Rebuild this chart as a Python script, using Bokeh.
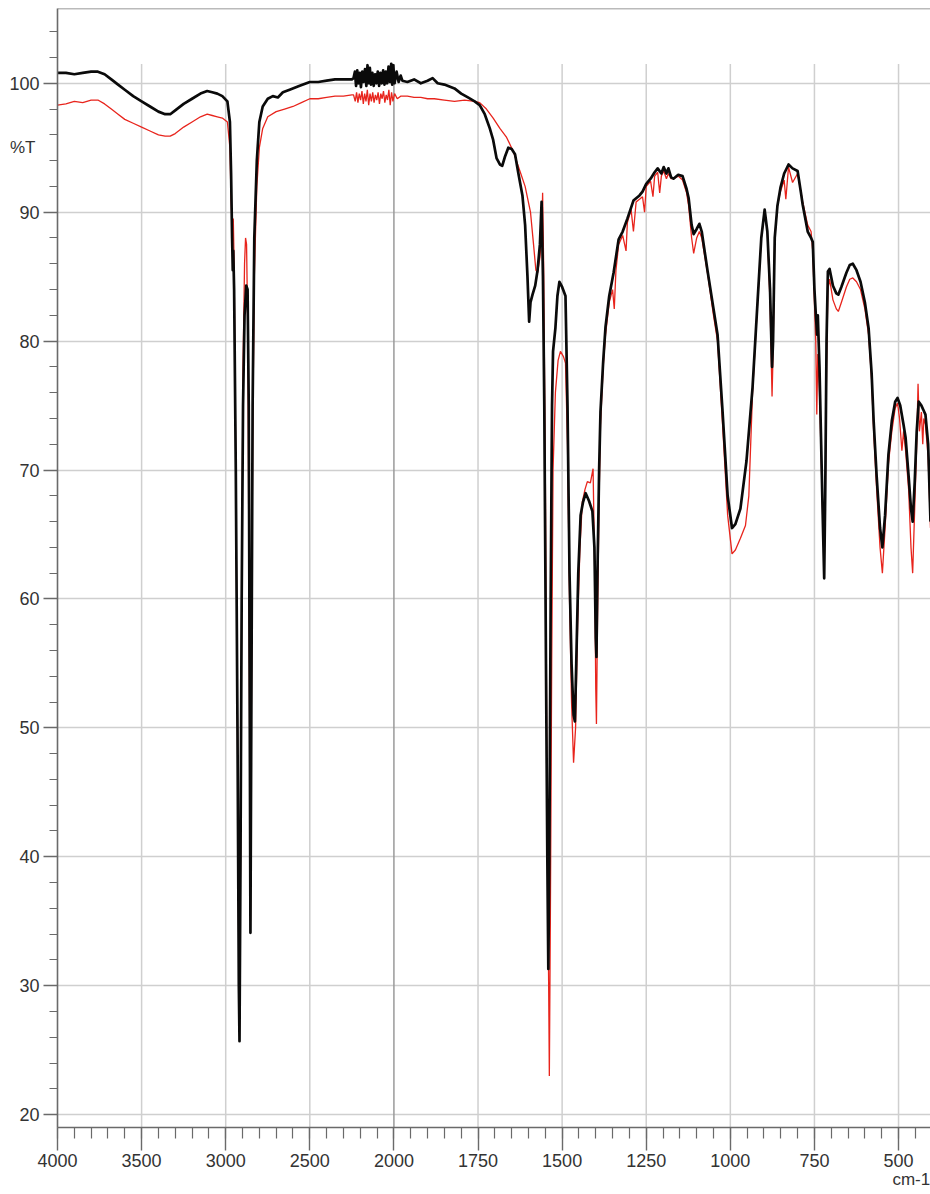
import numpy as np
from bokeh.plotting import figure
from bokeh.models import (ColumnDataSource, CustomJSTransform, FixedTicker, Range1d,
                          Span, LinearAxis)
from bokeh.transform import transform
from bokeh.embed import file_html
from bokeh.resources import INLINE

# ---------------- data (wavenumber cm-1, %T) ----------------
black_wn = [4000, 3950, 3900, 3850, 3800, 3760, 3720, 3680, 3640, 3600, 3550, 3500, 3450, 3400, 3360, 3330,
            3300, 3250, 3200, 3150, 3110, 3080, 3050, 3020, 2990, 2975, 2968, 2962, 2958, 2955, 2950, 2940,
            2930, 2922, 2918, 2912, 2905, 2897, 2888, 2878, 2870, 2863, 2858, 2853, 2848, 2840, 2830, 2815,
            2800, 2780, 2750, 2720, 2690, 2660, 2620, 2560, 2500, 2450, 2400, 2350, 2300, 2250,
            2240, 2232, 2225, 2218, 2210, 2203, 2196, 2188, 2180, 2172, 2164, 2157, 2150, 2143, 2136, 2128,
            2120, 2112, 2104, 2096, 2088, 2080, 2072, 2064, 2056, 2048, 2040, 2032, 2024, 2016, 2010, 2004,
            1998, 1992, 1986, 1980,
            1975, 1960, 1940, 1920, 1900, 1885, 1870, 1850, 1820, 1800, 1780, 1760, 1745, 1730, 1715, 1705,
            1695, 1685, 1678, 1670, 1660, 1650, 1640, 1630, 1618, 1610, 1603, 1598, 1594, 1588, 1580, 1573,
            1566, 1561, 1557, 1553, 1548, 1544, 1541, 1538, 1534, 1530, 1527, 1520, 1514, 1508, 1500, 1490,
            1484, 1478, 1472, 1466, 1462, 1458, 1452, 1445, 1438, 1430, 1420, 1410, 1404, 1400, 1398, 1395,
            1390, 1386, 1378, 1371, 1360, 1347, 1332, 1320, 1306, 1288, 1270, 1261, 1250, 1237, 1225, 1216,
            1205, 1198, 1190, 1184, 1176, 1169, 1155, 1142, 1130, 1124, 1115, 1109, 1100, 1092, 1085, 1068,
            1050, 1038, 1023, 1008, 995, 985, 970, 952, 934, 919, 908, 898, 890, 882, 876, 873,
            868, 860, 851, 840, 827, 815, 800, 790, 785, 770, 760, 755, 750, 746, 742, 740,
            735, 730, 725, 721, 718, 714, 710, 705, 695, 685, 679, 670, 655, 645, 636, 625,
            613, 600, 589, 580, 574, 565, 555, 548, 540, 530, 520, 510, 503, 495, 485, 479,
            470, 463, 458, 452, 446, 440, 432, 425, 420, 412, 405]
black_t = [100.8, 100.8, 100.7, 100.8, 100.9, 100.9, 100.7, 100.3, 99.9, 99.5, 99.0, 98.6, 98.2, 97.8, 97.6, 97.6,
           97.9, 98.4, 98.8, 99.2, 99.4, 99.3, 99.2, 99.0, 98.6, 97.0, 93.0, 88.0, 85.5, 87.0, 84.0, 70.0,
           50.0, 30.0, 25.7, 40.0, 60.0, 75.0, 82.0, 84.3, 84.0, 75.0, 55.0, 34.1, 50.0, 75.0, 88.0, 94.0,
           97.0, 98.2, 98.8, 99.0, 98.9, 99.3, 99.5, 99.8, 100.1, 100.1, 100.2, 100.3, 100.3, 100.3,
           100.4, 100.9, 99.8, 101.0, 100.0, 100.8, 99.7, 100.9, 100.1, 101.1, 99.8, 101.4, 100.0, 101.2, 99.9, 100.8,
           99.8, 100.7, 100.0, 100.9, 99.8, 100.8, 100.0, 101.0, 99.9, 100.9, 100.0, 101.3, 100.1, 101.5, 99.9, 101.4,
           100.0, 100.9, 100.1, 100.6,
           100.2, 100.1, 100.3, 100.0, 100.2, 100.4, 100.0, 99.9, 99.6, 99.2, 98.9, 98.6, 98.3, 97.6, 96.5, 95.6,
           94.2, 93.7, 93.6, 94.3, 95.0, 94.9, 94.5, 93.0, 91.3, 89.0, 85.0, 81.5, 83.0, 83.6, 84.3, 85.5,
           87.5, 90.8, 85.0, 75.0, 55.0, 40.0, 31.3, 40.0, 60.0, 75.0, 79.2, 81.0, 83.5, 84.6, 84.2, 83.5,
           75.0, 62.0, 55.0, 51.0, 50.5, 55.0, 62.0, 66.5, 67.5, 68.2, 67.6, 66.8, 64.0, 57.0, 55.5, 62.0,
           70.0, 74.5, 78.4, 81.1, 83.5, 85.3, 87.9, 88.5, 89.5, 90.9, 91.3, 91.6, 92.2, 92.6, 93.1, 93.4,
           93.0, 93.5, 93.0, 93.4, 92.7, 92.6, 92.9, 92.8, 91.8, 91.1, 89.0, 88.3, 88.7, 89.1, 88.5, 85.5,
           82.5, 80.5, 74.5, 68.0, 65.5, 65.8, 67.0, 70.7, 76.4, 83.1, 88.0, 90.2, 88.5, 84.0, 78.0, 80.0,
           88.0, 90.5, 91.9, 93.0, 93.7, 93.4, 93.2, 91.5, 90.6, 88.5, 88.0, 87.7, 84.0, 82.1, 80.5, 82.0,
           78.0, 72.0, 66.0, 61.6, 68.0, 80.0, 85.4, 85.6, 84.3, 83.7, 83.6, 84.2, 85.3, 85.9, 86.0, 85.5,
           84.6, 83.0, 81.0, 77.5, 73.8, 69.5, 65.5, 64.0, 66.5, 71.2, 73.8, 75.3, 75.6, 75.0, 73.5, 72.5,
           69.5, 67.0, 66.0, 69.0, 73.0, 75.3, 75.0, 74.6, 74.3, 72.0, 66.0]

red_wn = [4000, 3950, 3900, 3850, 3800, 3760, 3720, 3680, 3640, 3600, 3550, 3500, 3450, 3400, 3360, 3330,
          3300, 3250, 3200, 3150, 3110, 3080, 3050, 3020, 2990, 2975, 2968, 2962, 2958, 2955, 2950, 2940,
          2930, 2922, 2918, 2912, 2905, 2897, 2888, 2882, 2876, 2868, 2862, 2856, 2853, 2848, 2840, 2830,
          2815, 2800, 2780, 2750, 2700, 2650, 2600, 2550, 2500, 2450, 2400, 2350, 2300, 2250,
          2240, 2230, 2222, 2214, 2206, 2198, 2190, 2182, 2174, 2166, 2158, 2150, 2142, 2134, 2126, 2118,
          2110, 2102, 2094, 2086, 2078, 2070, 2062, 2054, 2046, 2038, 2030, 2022, 2014, 2006, 1998, 1990, 1980,
          1960, 1940, 1920, 1900, 1880, 1850, 1820, 1790, 1760, 1745, 1725, 1705, 1685, 1665, 1645, 1623,
          1610, 1594, 1585, 1578, 1573, 1566, 1560, 1558, 1555, 1550, 1545, 1540, 1538, 1535, 1531, 1527,
          1520, 1512, 1505, 1496, 1490, 1484, 1478, 1472, 1466, 1460, 1454, 1447, 1440, 1432, 1425, 1416,
          1408, 1403, 1400, 1398, 1395, 1390, 1386, 1378, 1371, 1360, 1350, 1345, 1340, 1332, 1320, 1310,
          1306, 1295, 1288, 1280, 1270, 1261, 1255, 1250, 1237, 1230, 1225, 1216, 1210, 1205, 1198, 1190,
          1184, 1176, 1169, 1155, 1142, 1130, 1124, 1115, 1109, 1100, 1092, 1085, 1068, 1050, 1038, 1023,
          1008, 995, 985, 970, 955, 945, 934, 919, 908, 898, 890, 882, 876, 873, 868, 860,
          851, 840, 835, 827, 815, 800, 785, 770, 760, 755, 750, 746, 743, 740, 735, 730,
          725, 721, 718, 714, 710, 705, 695, 685, 679, 670, 655, 645, 636, 625, 613, 600,
          589, 580, 574, 565, 555, 548, 540, 530, 520, 510, 503, 497, 490, 485, 479, 470,
          463, 458, 452, 446, 442, 438, 432, 428, 425, 420, 412, 405]
red_t = [98.3, 98.4, 98.6, 98.5, 98.7, 98.7, 98.4, 98.0, 97.6, 97.2, 96.9, 96.6, 96.3, 96.0, 95.9, 95.9,
         96.1, 96.6, 97.0, 97.4, 97.6, 97.5, 97.4, 97.3, 97.0, 95.0, 91.0, 89.0, 88.5, 89.5, 86.0, 70.0,
         50.0, 31.0, 26.5, 40.0, 60.0, 78.0, 86.0, 88.0, 87.5, 80.0, 62.0, 45.0, 35.0, 50.0, 72.0, 85.0,
         92.0, 95.0, 96.5, 97.4, 97.8, 98.0, 98.2, 98.5, 98.8, 98.8, 98.9, 99.0, 99.0, 99.1,
         99.1, 98.6, 99.3, 98.5, 99.2, 98.7, 99.4, 98.4, 99.2, 98.6, 99.5, 98.3, 99.2, 98.6, 99.3, 98.5,
         99.1, 98.7, 99.3, 98.4, 99.2, 98.8, 99.4, 98.5, 99.1, 98.7, 99.5, 98.3, 99.3, 98.6, 99.2, 98.8, 99.0,
         99.0, 98.9, 98.9, 98.8, 98.8, 98.7, 98.6, 98.7, 98.6, 98.5, 98.0, 97.3, 96.5, 95.8, 94.7, 93.0,
         92.0, 90.0, 87.5, 85.5, 85.3, 86.5, 88.5, 91.5, 86.0, 70.0, 45.0, 30.0, 23.0, 35.0, 55.0, 70.0,
         76.0, 78.5, 79.2, 78.8, 78.3, 72.0, 60.0, 52.0, 47.3, 50.0, 58.0, 64.0, 67.5, 68.5, 69.1, 69.0,
         70.1, 62.0, 53.0, 50.3, 58.0, 68.0, 73.5, 78.0, 80.5, 83.0, 84.0, 82.5, 85.5, 87.5, 88.2, 87.0,
         89.2, 90.2, 88.5, 90.8, 91.0, 91.2, 90.0, 92.0, 92.4, 91.2, 92.8, 93.1, 91.5, 92.8, 93.2, 92.6,
         93.0, 92.6, 92.6, 92.8, 92.5, 91.5, 90.5, 88.0, 86.8, 88.0, 88.5, 88.0, 85.3, 82.0, 80.0, 73.5,
         66.5, 63.5, 63.8, 64.7, 65.7, 68.0, 76.0, 83.0, 88.0, 90.0, 88.5, 83.0, 75.7, 79.0, 88.0, 90.5,
         91.6, 92.5, 91.0, 93.5, 92.3, 93.0, 90.8, 89.0, 88.5, 87.0, 83.0, 80.0, 74.3, 79.0, 76.0, 71.0,
         66.0, 62.5, 67.0, 78.0, 84.0, 84.8, 83.2, 82.5, 82.3, 83.0, 84.2, 84.8, 84.9, 84.6, 84.0, 82.5,
         80.5, 77.0, 73.0, 68.5, 64.0, 62.0, 65.5, 70.5, 73.0, 74.8, 75.2, 74.0, 71.5, 73.0, 71.5, 68.5,
         64.0, 62.0, 67.0, 72.0, 76.7, 73.0, 74.5, 72.0, 74.0, 73.5, 71.0, 65.5]

x_major_labels = [4000, 3500, 3000, 2500, 2000, 1750, 1500, 1250, 1000, 750, 500]
y_major = [20, 30, 40, 50, 60, 70, 80, 90, 100]
y_unit_label, x_unit_label = "%T", "cm-1"

# ---------------- axis scale: compressed above 2000 cm-1 ----------------
BREAK = 2000.0


def fold(w):
    w = np.asarray(w, dtype=float)
    return np.where(w > BREAK, BREAK + (w - BREAK) / 2.0, w)


fold_js = CustomJSTransform(v_func="""
const out = new Float64Array(xs.length)
for (let i = 0; i < xs.length; i++) {
  const w = xs[i]
  out[i] = w > 2000 ? 2000 + (w - 2000) / 2 : w
}
return out
""")

W, H = 930, 1194
X_START, X_END = float(fold([4000])[0]), 405.0
Y_START, Y_END = 19.0, 105.8
FONT = "Liberation Sans"
TXT = "#333333"
AXC = "#6a6a6a"

p = figure(width=W, height=H, output_backend="svg", toolbar_location=None,
           x_range=Range1d(X_START, X_END), y_range=Range1d(Y_START, Y_END),
           min_border_left=57, min_border_right=0, min_border_top=8, min_border_bottom=67)
p.outline_line_color = None
p.background_fill_color = "white"
p.border_fill_color = "white"
p.xgrid.grid_line_color = None
p.ygrid.grid_line_color = "#cfcfcf"
p.ygrid.grid_line_width = 1.5

# vertical grid lines (stop slightly above 100 %T as in the original)
x_major_u = [float(v) for v in fold(x_major_labels)]
grid_src = ColumnDataSource(dict(x=x_major_u[1:], y0=[Y_START] * (len(x_major_u) - 1),
                                 y1=[101.5] * (len(x_major_u) - 1),
                                 c=["#9a9a9a" if v == BREAK else "#cfcfcf" for v in x_major_u[1:]]))
p.segment(x0="x", y0="y0", x1="x", y1="y1", line_color="c", line_width=1.5, source=grid_src)

# top frame line
p.add_layout(Span(location=Y_END, dimension="width", line_color="#777777", line_width=1.5))

# ---------------- spectra ----------------
src_red = ColumnDataSource(dict(wn=red_wn, t=red_t))
src_black = ColumnDataSource(dict(wn=black_wn, t=black_t))
p.line(x=transform("wn", fold_js), y="t", source=src_red, line_color="#e8241c", line_width=1.3)
p.line(x=transform("wn", fold_js), y="t", source=src_black, line_color="#0a0a0a", line_width=2.7,
       line_join="round")

# ---------------- axes ----------------
minor_wn = list(range(4000, 2000, -100)) + list(range(2000, 400, -50))
p.xaxis.ticker = FixedTicker(ticks=x_major_u, minor_ticks=[float(v) for v in fold(minor_wn)])
p.xaxis.major_label_overrides = {u: str(l) for u, l in zip(x_major_u, x_major_labels)}
p.yaxis.ticker = FixedTicker(ticks=y_major, minor_ticks=[20 + 2 * i for i in range(43)])

for ax in (p.xaxis[0], p.yaxis[0]):
    ax.axis_line_color = AXC
    ax.axis_line_width = 1.6
    ax.major_tick_line_color = AXC
    ax.minor_tick_line_color = AXC
    ax.major_tick_line_width = 1.4
    ax.minor_tick_line_width = 1.2
    ax.major_tick_in = 0
    ax.minor_tick_in = 0
    ax.major_label_text_font = FONT
    ax.major_label_text_font_size = "18px"
    ax.major_label_text_color = TXT
    ax.major_label_standoff = 4

p.xaxis.major_label_standoff = 3
p.xaxis.major_tick_out = 23
p.xaxis.minor_tick_out = 11
p.yaxis.major_tick_out = 14
p.yaxis.minor_tick_out = 8

# unit labels: extra label-only axes stacked outside the main axes
y_unit_pos = 95.0
x_unit_pos = float(X_END + 57)  # near the right end of the axis
y_unit_axis = LinearAxis(ticker=FixedTicker(ticks=[y_unit_pos], minor_ticks=[]),
                         major_label_overrides={y_unit_pos: y_unit_label},
                         axis_line_color=None, major_tick_line_color=None, minor_tick_line_color=None,
                         major_tick_in=0, major_tick_out=0, minor_tick_in=0, minor_tick_out=0,
                         major_label_standoff=-29,
                         major_label_text_font=FONT, major_label_text_font_size="17px",
                         major_label_text_color=TXT)
p.add_layout(y_unit_axis, "left")
x_unit_axis = LinearAxis(ticker=FixedTicker(ticks=[x_unit_pos], minor_ticks=[]),
                         major_label_overrides={x_unit_pos: x_unit_label},
                         axis_line_color=None, major_tick_line_color=None, minor_tick_line_color=None,
                         major_tick_in=0, major_tick_out=0, minor_tick_in=0, minor_tick_out=0,
                         major_label_standoff=0,
                         major_label_text_font=FONT, major_label_text_font_size="17px",
                         major_label_text_color=TXT)
p.add_layout(x_unit_axis, "below")

open("out.html", "w").write(file_html(p, INLINE))
